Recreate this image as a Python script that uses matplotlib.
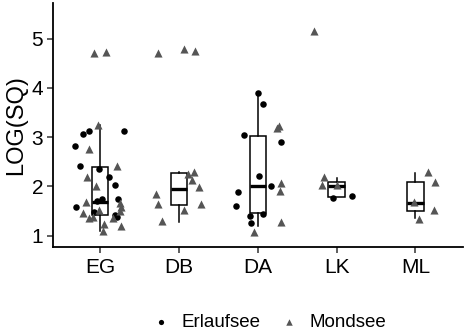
import matplotlib
matplotlib.use("Agg")
import matplotlib.pyplot as plt
import numpy as np

plt.rcParams['font.family'] = ['Liberation Sans', 'DejaVu Sans']

sites = ["EG", "DB", "DA", "LK", "ML"]

# box statistics (combined lakes)
whis_lo = [1.09, 1.29, 1.19, 1.78, 1.36]
q1 = [1.43, 1.63, 1.46, 1.78, 1.50]
median = [1.69, 1.95, 2.00, 2.01, 1.67]
q3 = [2.40, 2.28, 3.02, 2.09, 2.09]
whis_hi = [3.25, 2.29, 3.90, 2.17, 2.27]

# Erlaufsee points: site, log(SQ), jitter offset
erl_site = ["EG"] * 15 + ["DA"] * 11 + ["LK"] * 2
erl_val = [2.83, 3.06, 3.13, 2.42, 2.36, 3.13, 2.19, 2.03, 1.75, 1.58, 1.49, 1.71, 1.74, 1.43, 1.39,
           3.90, 3.67, 3.04, 2.90, 2.22, 2.00, 1.88, 1.61, 1.40, 1.44, 1.26,
           1.77, 1.80]
erl_jit = [-0.32, -0.22, -0.14, -0.25, -0.01, 0.30, 0.11, 0.19, 0.23, -0.30, -0.08, -0.04, 0.02, 0.19, 0.22,
           0.00, 0.07, -0.18, 0.30, 0.02, 0.17, -0.25, -0.27, -0.10, 0.07, -0.09,
           -0.05, 0.19]

# Mondsee points
mon_site = ["EG"] * 19 + ["DB"] * 12 + ["DA"] * 6 + ["LK"] * 4 + ["ML"] * 5
mon_val = [4.70, 4.73, 3.25, 2.76, 2.42, 2.19, 2.01, 1.68, 1.47, 1.36, 1.38, 1.53, 1.24, 1.10, 1.66, 1.58, 1.51, 1.36, 1.20,
           4.71, 4.78, 4.75, 1.85, 1.64, 1.30, 2.25, 2.29, 2.13, 1.99, 1.64, 1.53,
           3.23, 3.18, 2.08, 1.91, 1.29, 1.07,
           5.15, 2.20, 2.03, 2.03,
           2.29, 2.10, 1.69, 1.53, 1.34]
mon_jit = [-0.08, 0.08, -0.03, -0.14, 0.21, -0.17, -0.05, -0.18, -0.22, -0.14, -0.09, -0.01, 0.05, 0.04, 0.25, 0.27, 0.25, 0.17, 0.27,
           -0.27, 0.06, 0.20, -0.29, -0.27, -0.22, 0.11, 0.19, 0.17, 0.25, 0.28, 0.07,
           0.27, 0.25, 0.30, 0.28, 0.30, -0.05,
           -0.29, -0.16, -0.19, 0.00,
           0.16, 0.25, -0.02, 0.23, 0.05]

fig = plt.figure(figsize=(4.67, 3.32), dpi=100)
ax = fig.add_axes([0.113, 0.257, 0.878, 0.734])

pos = np.arange(1, len(sites) + 1)
stats = [dict(whislo=whis_lo[i], q1=q1[i], med=median[i], q3=q3[i], whishi=whis_hi[i], fliers=[])
         for i in range(len(sites))]
ax.bxp(stats, positions=pos, widths=0.21, showcaps=False, patch_artist=True,
       boxprops=dict(facecolor="white", edgecolor="black", linewidth=1.1),
       whiskerprops=dict(color="black", linewidth=1.1),
       medianprops=dict(color="black", linewidth=2.4), zorder=2)

idx = {s: i + 1 for i, s in enumerate(sites)}
ex = np.array([idx[s] for s in erl_site]) + np.array(erl_jit)
mx = np.array([idx[s] for s in mon_site]) + np.array(mon_jit)
ax.scatter(ex, erl_val, s=22, marker="o", color="black", linewidths=0, zorder=3, label="Erlaufsee")
ax.scatter(mx, mon_val, s=34, marker="^", color="#555555", linewidths=0, zorder=3, label="Mondsee")

ax.set_xlim(0.4, 5.6)
ax.set_ylim(0.78, 5.72)
ax.set_xticks(pos)
ax.set_xticklabels(sites)
ax.set_yticks([1, 2, 3, 4, 5])
ax.set_ylabel("LOG(SQ)", fontsize=17, labelpad=3)
ax.tick_params(labelsize=15, length=4, width=1.1, color="#333333", pad=3)
ax.tick_params(axis="x", pad=4)
for s in ["top", "right"]:
    ax.spines[s].set_visible(False)
for s in ["left", "bottom"]:
    ax.spines[s].set_linewidth(1.3)

fig.legend(loc="center", bbox_to_anchor=(0.574, 0.03), ncol=2, frameon=False, fontsize=13.5,
           handletextpad=0.5, columnspacing=0.9, handlelength=1.2, markerscale=0.8)

fig.savefig("out.png", dpi=100)
